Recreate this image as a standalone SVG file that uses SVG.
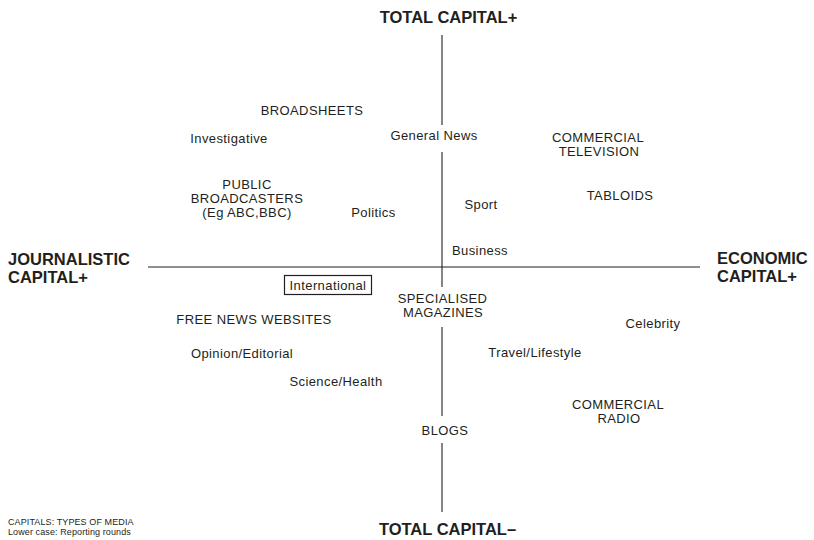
<svg xmlns="http://www.w3.org/2000/svg" width="814" height="540" viewBox="0 0 814 540">
<style>
text{font-family:"Liberation Sans",Arial,Helvetica,sans-serif;fill:#231f20}
.l{font-size:13px;letter-spacing:0.4px;text-anchor:middle}
.ax{font-size:16.5px;font-weight:bold}
.axm{font-size:16.5px;font-weight:bold;text-anchor:middle}
.fn{font-size:9px;letter-spacing:0.1px}
.ln{stroke:#231f20;stroke-width:1.1;fill:none}
</style>
<rect width="814" height="540" fill="#fff"/>
<g id="connectors">
<line class="ln" x1="148" y1="267" x2="700" y2="267"/>
<line class="ln" x1="442" y1="35" x2="442" y2="125"/>
<line class="ln" x1="442" y1="152" x2="442" y2="287"/>
<line class="ln" x1="442" y1="327" x2="442" y2="416"/>
<line class="ln" x1="442" y1="443" x2="442" y2="512"/>
</g>
<g id="axis-top"><text class="axm" x="448.5" y="23">TOTAL CAPITAL+</text></g>
<g id="axis-bottom"><text class="axm" x="447.5" y="535">TOTAL CAPITAL–</text></g>
<g id="axis-left"><text class="ax" x="8" y="265">JOURNALISTIC</text><text class="ax" x="8" y="283">CAPITAL+</text></g>
<g id="axis-right"><text class="ax" x="717" y="264">ECONOMIC</text><text class="ax" x="717" y="282">CAPITAL+</text></g>
<g id="broadsheets"><text class="l" x="312" y="115">BROADSHEETS</text></g>
<g id="investigative"><text class="l" x="229" y="143">Investigative</text></g>
<g id="general-news"><text class="l" x="434" y="140">General News</text></g>
<g id="commercial-tv"><text class="l" x="598" y="142">COMMERCIAL</text><text class="l" x="599" y="156">TELEVISION</text></g>
<g id="public-broadcasters"><text class="l" x="247" y="189">PUBLIC</text><text class="l" x="247" y="203">BROADCASTERS</text><text class="l" x="247" y="217">(Eg ABC,BBC)</text></g>
<g id="politics"><text class="l" x="373.5" y="217">Politics</text></g>
<g id="sport"><text class="l" x="481" y="209">Sport</text></g>
<g id="tabloids"><text class="l" x="620" y="200">TABLOIDS</text></g>
<g id="business"><text class="l" x="480" y="255">Business</text></g>
<g id="international"><rect x="284.5" y="275.5" width="87" height="19" fill="none" stroke="#231f20" stroke-width="1.2"/><text class="l" x="328" y="289.5">International</text></g>
<g id="specialised-magazines"><text class="l" x="442.5" y="303">SPECIALISED</text><text class="l" x="443" y="317">MAGAZINES</text></g>
<g id="free-news-websites"><text class="l" x="254" y="324">FREE NEWS WEBSITES</text></g>
<g id="celebrity"><text class="l" x="653" y="328">Celebrity</text></g>
<g id="opinion"><text class="l" x="242" y="358">Opinion/Editorial</text></g>
<g id="travel"><text class="l" x="535" y="357">Travel/Lifestyle</text></g>
<g id="science"><text class="l" x="336" y="386">Science/Health</text></g>
<g id="commercial-radio"><text class="l" x="618" y="409">COMMERCIAL</text><text class="l" x="619" y="423">RADIO</text></g>
<g id="blogs"><text class="l" x="445" y="435">BLOGS</text></g>
<g id="legend"><text class="fn" x="8" y="525">CAPITALS: TYPES OF MEDIA</text><text class="fn" x="8" y="535">Lower case: Reporting rounds</text></g>
</svg>
